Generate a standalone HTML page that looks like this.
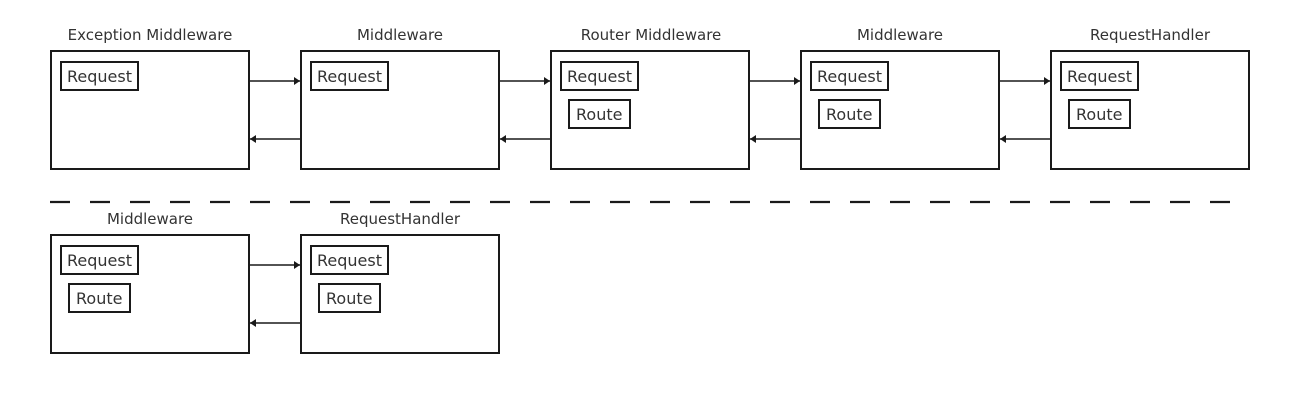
<!DOCTYPE html>
<html><head><meta charset="utf-8"><style>
html,body{margin:0;padding:0;background:#fff;}
svg{display:block}
text{font-family:"DejaVu Sans","Liberation Sans",sans-serif;fill:#333;}
.t{font-size:15px;text-anchor:middle;}
.l{font-size:16px;}
</style></head><body>
<svg width="1300" height="404" viewBox="0 0 1300 404" xmlns="http://www.w3.org/2000/svg">
<defs>
<marker id="a" markerWidth="6" markerHeight="8" refX="6" refY="4" orient="auto" markerUnits="userSpaceOnUse"><path d="M0,0 L6,4 L0,8 z" fill="#1a1a1a"/></marker>
</defs>
<g fill="none" stroke="#1a1a1a" stroke-width="2">
<rect x="51" y="51" width="198" height="118"/>
<rect x="301" y="51" width="198" height="118"/>
<rect x="551" y="51" width="198" height="118"/>
<rect x="801" y="51" width="198" height="118"/>
<rect x="1051" y="51" width="198" height="118"/>
<rect x="61" y="62" width="77" height="28"/>
<rect x="311" y="62" width="77" height="28"/>
<rect x="561" y="62" width="77" height="28"/>
<rect x="811" y="62" width="77" height="28"/>
<rect x="1061" y="62" width="77" height="28"/>
<rect x="569" y="100" width="61" height="28"/>
<rect x="819" y="100" width="61" height="28"/>
<rect x="1069" y="100" width="61" height="28"/>
<rect x="51" y="235" width="198" height="118"/>
<rect x="301" y="235" width="198" height="118"/>
<rect x="61" y="246" width="77" height="28"/>
<rect x="311" y="246" width="77" height="28"/>
<rect x="69" y="284" width="61" height="28"/>
<rect x="319" y="284" width="61" height="28"/>
<line x1="50" y1="202" x2="1230" y2="202" stroke-dasharray="20 20" stroke-width="2.2"/>
</g>
<g stroke="#1a1a1a" stroke-width="1.6">
<line x1="249" y1="81" x2="300" y2="81" marker-end="url(#a)"/>
<line x1="499" y1="81" x2="550" y2="81" marker-end="url(#a)"/>
<line x1="749" y1="81" x2="800" y2="81" marker-end="url(#a)"/>
<line x1="999" y1="81" x2="1050" y2="81" marker-end="url(#a)"/>
<line x1="301" y1="139" x2="250" y2="139" marker-end="url(#a)"/>
<line x1="551" y1="139" x2="500" y2="139" marker-end="url(#a)"/>
<line x1="801" y1="139" x2="750" y2="139" marker-end="url(#a)"/>
<line x1="1051" y1="139" x2="1000" y2="139" marker-end="url(#a)"/>
<line x1="249" y1="265" x2="300" y2="265" marker-end="url(#a)"/>
<line x1="301" y1="323" x2="250" y2="323" marker-end="url(#a)"/>
</g>
<text class="t" x="150" y="40">Exception Middleware</text>
<text class="t" x="400" y="40">Middleware</text>
<text class="t" x="651" y="40">Router Middleware</text>
<text class="t" x="900" y="40">Middleware</text>
<text class="t" x="1150" y="40">RequestHandler</text>
<text class="t" x="150" y="224">Middleware</text>
<text class="t" x="400" y="224">RequestHandler</text>
<text class="l" x="67" y="82">Request</text>
<text class="l" x="317" y="82">Request</text>
<text class="l" x="567" y="82">Request</text>
<text class="l" x="817" y="82">Request</text>
<text class="l" x="1067" y="82">Request</text>
<text class="l" x="576" y="120">Route</text>
<text class="l" x="826" y="120">Route</text>
<text class="l" x="1076" y="120">Route</text>
<text class="l" x="67" y="266">Request</text>
<text class="l" x="317" y="266">Request</text>
<text class="l" x="76" y="304">Route</text>
<text class="l" x="326" y="304">Route</text>
</svg>
</body></html>
